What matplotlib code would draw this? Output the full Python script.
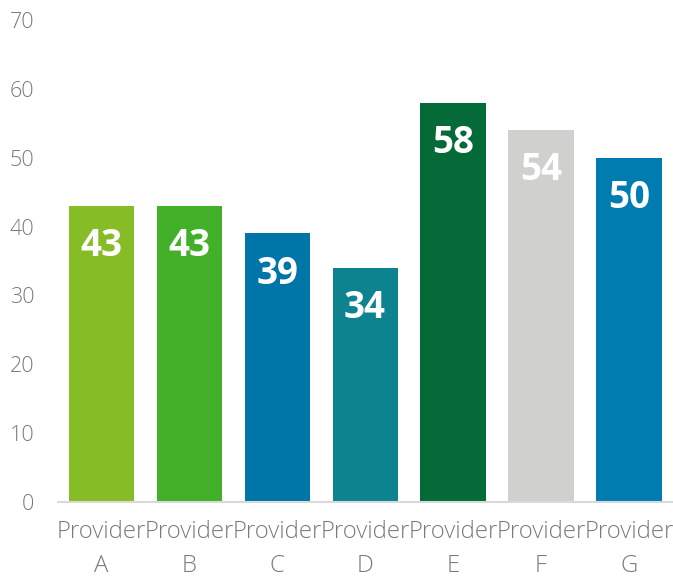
import matplotlib
matplotlib.use("Agg")
from matplotlib import pyplot as plt

providers = ["Provider\nA", "Provider\nB", "Provider\nC", "Provider\nD",
             "Provider\nE", "Provider\nF", "Provider\nG"]
scores = [43, 43, 39, 34, 58, 54, 50]
colors = ["#86BC25", "#43B02A", "#0076A8", "#0D8390", "#046A38", "#D0D0CE", "#007CB0"]
y_ticks = [0, 10, 20, 30, 40, 50, 60, 70]

plt.rcParams['font.family'] = ['Open Sans', 'DejaVu Sans']

fig = plt.figure(figsize=(6.73, 5.8), dpi=100)
ax = fig.add_axes([58 / 673, 78 / 580, 615 / 673, 482 / 580])

x = range(len(scores))
bars = ax.bar(x, scores, width=0.74, color=colors, zorder=2)

# value labels inside the top of each bar
for bar, value in zip(bars, scores):
    ax.annotate(str(value), (bar.get_x() + bar.get_width() / 2, value),
                xytext=(0, -29), textcoords="offset points",
                ha="center", va="center", color="white",
                fontsize=26.5, fontweight="bold")

ax.set_xlim(-0.49, 6.5)
ax.set_ylim(0, 70)
ax.set_yticks(y_ticks)
ax.set_xticks(list(x))
ax.set_xticklabels(providers, linespacing=1.55)

for side in ["top", "right", "left"]:
    ax.spines[side].set_visible(False)
ax.spines["bottom"].set_color("#D9D9D9")
ax.spines["bottom"].set_linewidth(1.5)

ax.tick_params(axis="y", length=0, pad=17, labelsize=15.5, labelcolor="#7A7A7A")
ax.tick_params(axis="x", length=0, pad=13, labelsize=17.2, labelcolor="#7A7A7A")
for lbl in ax.get_xticklabels() + ax.get_yticklabels():
    lbl.set_fontweight("light")

fig.savefig("out.png", dpi=100)
